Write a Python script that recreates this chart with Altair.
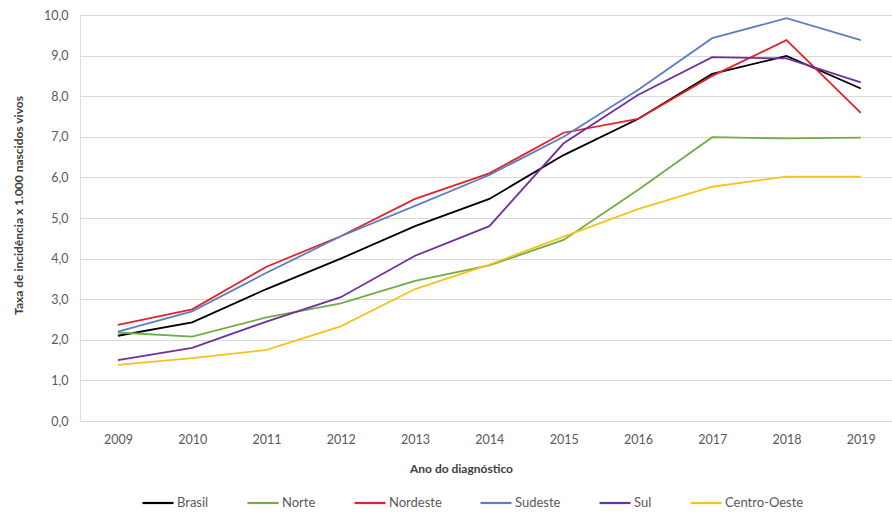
import altair as alt
import pandas as pd

years = [2009, 2010, 2011, 2012, 2013, 2014, 2015, 2016, 2017, 2018, 2019]
series = ["Brasil", "Norte", "Nordeste", "Sudeste", "Sul", "Centro-Oeste"]
colors = ["#000000", "#70AD47", "#E0242A", "#5B7FC0", "#7030A0", "#F6C21C"]

brasil = [2.10, 2.43, 3.25, 4.00, 4.80, 5.47, 6.55, 7.44, 8.55, 8.99, 8.19]
norte = [2.18, 2.08, 2.55, 2.90, 3.45, 3.83, 4.46, 5.69, 6.99, 6.96, 6.98]
nordeste = [2.37, 2.75, 3.80, 4.55, 5.47, 6.10, 7.10, 7.44, 8.50, 9.38, 7.59]
sudeste = [2.20, 2.70, 3.65, 4.55, 5.30, 6.06, 7.00, 8.15, 9.43, 9.92, 9.38]
sul = [1.50, 1.80, 2.45, 3.05, 4.07, 4.80, 6.84, 8.03, 8.96, 8.93, 8.34]
centro_oeste = [1.38, 1.55, 1.75, 2.33, 3.25, 3.85, 4.54, 5.22, 5.77, 6.02, 6.02]

values = [brasil, norte, nordeste, sudeste, sul, centro_oeste]
rows = []
for name, vals in zip(series, values):
    for yr, v in zip(years, vals):
        rows.append({"Ano": yr, "Taxa": v, "Região": name, "ordem": series.index(name)})
df = pd.DataFrame(rows)

FONT = "Lato"

chart = (
    alt.Chart(df)
    .mark_line(strokeWidth=1.8)
    .encode(
        x=alt.X(
            "Ano:Q",
            scale=alt.Scale(domain=[2008.49, 2019.42], nice=False, zero=False),
            axis=alt.Axis(
                values=years,
                format="d",
                title="Ano do diagnóstico",
                grid=False,
                ticks=False,
                domain=False,
                labelPadding=12,
                labelFontSize=12.5,
                labelColor="#595959",
                labelFont=FONT,
                titleFont=FONT,
                titleFontSize=12,
                titleFontWeight="bold",
                titleColor="#404040",
                titleX=381,
                titleY=47,
                titleBaseline="middle",
            ),
        ),
        y=alt.Y(
            "Taxa:Q",
            scale=alt.Scale(domain=[0, 10], nice=False),
            axis=alt.Axis(
                values=[0, 1, 2, 3, 4, 5, 6, 7, 8, 9, 10],
                labelExpr="replace(format(datum.value, '.1f'), '.', ',')",
                title="Taxa de incidência x 1.000 nascidos vivos",
                grid=True,
                gridColor="#d9d9d9",
                gridWidth=1,
                ticks=False,
                domain=False,
                labelPadding=12,
                labelFontSize=12.5,
                labelColor="#595959",
                labelFont=FONT,
                titleFont=FONT,
                titleFontSize=12,
                titleFontWeight="bold",
                titleColor="#404040",
                titleAngle=-90,
                titleX=-62,
                titleY=190,
                titleBaseline="middle",
                titleAlign="center",
            ),
        ),
        color=alt.Color(
            "Região:N",
            scale=alt.Scale(domain=series, range=colors),
            legend=alt.Legend(
                title=None,
                orient="none",
                direction="horizontal",
                legendX=61,
                legendY=471,
                symbolType="stroke",
                symbolSize=961,
                symbolStrokeWidth=2.2,
                labelOffset=2,
                columnPadding=34,
                labelFont=FONT,
                labelFontSize=13,
                labelColor="#595959",
            ),
        ),
        order=alt.Order("ordem:Q"),
        detail="Região:N",
    )
    .properties(
        width=812,
        height=406,
        autosize=alt.AutoSizeParams(type="none"),
        padding={"left": 80, "top": 15, "right": 0, "bottom": 93},
    )
    .configure_view(stroke=None)
    .configure(background="white")
)

chart.save("out.html", embed_options={"renderer": "svg", "actions": False})
